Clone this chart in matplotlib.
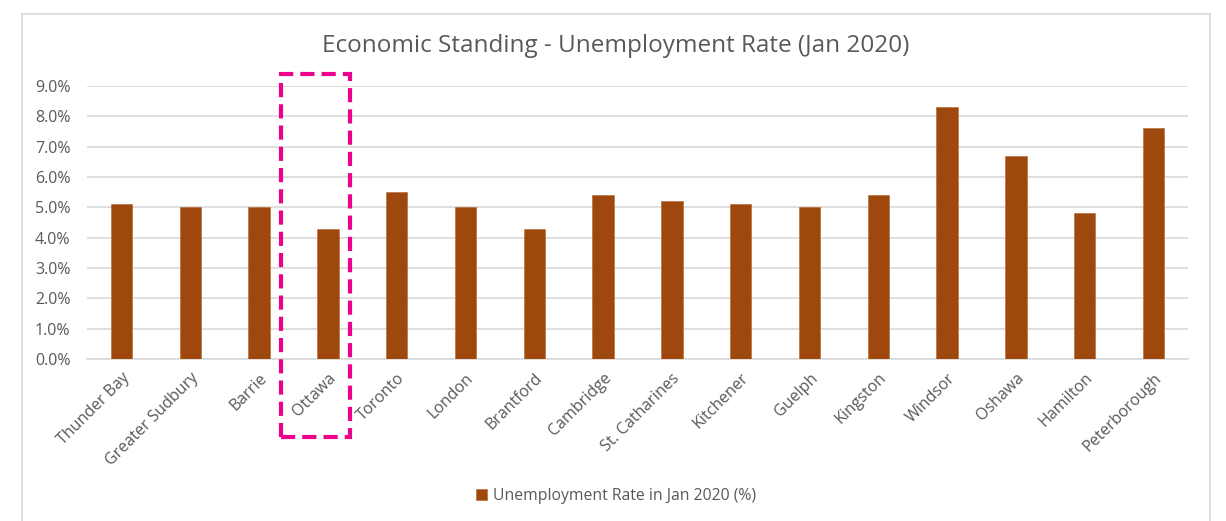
import numpy as np
import matplotlib
matplotlib.use("Agg")
import matplotlib.pyplot as plt
import matplotlib.patches as mpatches
import matplotlib.transforms as mtransforms
from matplotlib.ticker import FuncFormatter, MultipleLocator

plt.rcParams['font.family'] = ['Open Sans', 'DejaVu Sans']

# unemployment rate by city, Jan 2020 (%)
cities = ["Thunder Bay", "Greater Sudbury", "Barrie", "Ottawa", "Toronto",
          "London", "Brantford", "Cambridge", "St. Catharines", "Kitchener",
          "Guelph", "Kingston", "Windsor", "Oshawa", "Hamilton", "Peterborough"]
rates = [5.1, 5.0, 5.0, 4.3, 5.5, 5.0, 4.3, 5.4, 5.2, 5.1,
         5.0, 5.4, 8.3, 6.7, 4.8, 7.6]
highlight = "Ottawa"

bar_color = "#9E480E"
text_color = "#595959"
grid_color = "#D9D9D9"

fig = plt.figure(figsize=(12.26, 5.21), dpi=100)
ax = fig.add_axes([0.071, 0.311, 0.898, 0.524])

# outer chart frame
frame_l, frame_r, frame_t = 22 / 1226, 1210 / 1226, 1 - 14 / 521
frame = mpatches.Rectangle((frame_l, -0.1), frame_r - frame_l, frame_t + 0.1,
                           transform=fig.transFigure, fill=False,
                           edgecolor=grid_color, linewidth=1.2)
fig.patches.append(frame)
frame_mid = (frame_l + frame_r) / 2

x = np.arange(len(cities))
ax.bar(x, np.array(rates) / 100, width=0.31, color=bar_color,
       edgecolor="#B8703F", linewidth=0.5, zorder=3,
       label="Unemployment Rate in Jan 2020 (%)")

ax.set_xlim(-0.5, len(cities) - 0.5)
ax.set_ylim(0, 0.09)
ax.yaxis.set_major_locator(MultipleLocator(0.01))
ax.yaxis.set_major_formatter(FuncFormatter(lambda v, p: f"{v * 100:.1f}%"))
ax.grid(axis="y", color=grid_color, linewidth=1.2, zorder=0)

ax.set_xticks(x)
ax.set_xticklabels(cities, rotation=45, ha="right", rotation_mode="anchor")
ax.tick_params(axis="both", length=0, labelsize=11.5, labelcolor=text_color)
ax.tick_params(axis="x", pad=8)
ax.tick_params(axis="y", pad=12)

for s in ["top", "right", "left"]:
    ax.spines[s].set_visible(False)
ax.spines["bottom"].set_color(grid_color)
ax.spines["bottom"].set_linewidth(1.2)

# title centred on the chart frame
fig.text(frame_mid, 1 - 46 / 521, "Economic Standing - Unemployment Rate (Jan 2020)",
         fontsize=17.5, color=text_color, ha="center", va="center")

# dashed box around the highlighted city
i = cities.index(highlight)
trans = mtransforms.blended_transform_factory(ax.transData, ax.transAxes)
box = mpatches.Rectangle((i - 0.68, -0.286), 1.0, 1.33, transform=trans,
                         fill=False, edgecolor="#EC008C", linewidth=3,
                         linestyle=(0, (3.4, 1.7)), clip_on=False, zorder=5)
ax.add_patch(box)

leg = fig.legend(loc="center", bbox_to_anchor=(frame_mid, 1 - 496 / 521),
                 frameon=False, fontsize=11.3, handlelength=0.7, handleheight=0.7,
                 handletextpad=0.4)
for t in leg.get_texts():
    t.set_color(text_color)

fig.savefig("out.png", dpi=100)
